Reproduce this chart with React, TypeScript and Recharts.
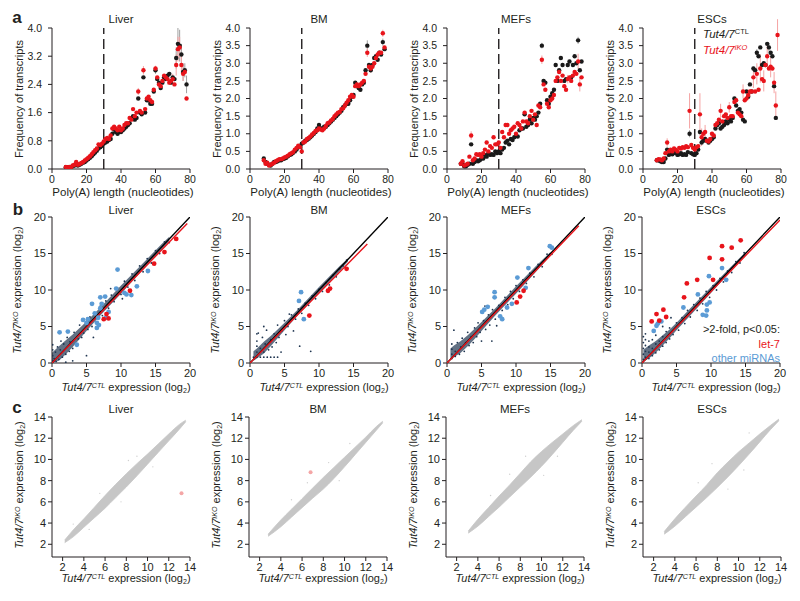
import React from 'react';
import { ComposedChart, Scatter, XAxis, YAxis, ReferenceLine, ErrorBar, Area } from 'recharts';

const FONT = '"Liberation Sans", Arial, Helvetica, sans-serif';
const INK = '#231f20';
const RED = '#e8141b';
const BLACK = '#1a1a1a';
const BLUE = '#5b9bd5';
const NAVY = '#1f3550';
const GRAY = '#c6c6c6';

// ---------------- Row a: poly(A) length distributions ----------------
const polyALengths = [8,9,10,11,12,13,14,15,16,17,18,19,20,21,22,23,24,25,26,27,28,29,30,31,32,33,34,35,36,37,38,39,40,41,42,43,44,45,46,47,48,49,50,51,52,53,54,55,56,57,58,59,60,61,62,63,64,65,66,67,68,69,70,71,72,73,74,75,76,77,78];

const liverCtl = [0.05,0.05,0.05,0.06,0.08,0.10,0.14,0.10,0.12,0.15, 0.18,0.20,0.24,0.28,0.32,0.36,0.42,0.47,0.52,0.58, 0.62,0.66,0.72,0.75,0.78,0.82,0.85,1.00,1.12,1.05, 1.00,1.05,1.05,1.10,1.15,1.20,1.25,1.30,1.45,1.50, 1.40,1.45,2.00,1.60,1.55,2.60,1.60,1.95,1.95,1.85, 1.85,2.20,2.80,2.55,2.45,2.30,2.45,2.60,2.55,2.65, 2.70,2.45,2.60,2.55,3.15,3.55,3.50,3.25,2.75,2.80, 2.40];
const liverKo = [0.06,0.05,0.06,0.05,0.10,0.12,0.20,0.12,0.14,0.17, 0.20,0.24,0.28,0.32,0.36,0.42,0.48,0.53,0.58,0.70, 0.68,0.72,0.78,0.85,0.88,0.85,0.95,1.15,1.20,1.15, 1.10,1.20,1.10,1.15,1.25,1.30,1.30,1.45,1.40,1.70, 1.50,1.60,2.20,1.65,1.60,2.80,1.70,2.00,2.05,1.95, 1.90,2.25,2.85,2.60,2.40,2.35,2.50,2.65,2.60,2.55, 2.45,2.50,2.55,2.40,2.95,3.40,3.45,2.95,2.70,2.75, 2.00];
const bmCtl = [0.30,0.20,0.15,0.12,0.10,0.15,0.20,0.20,0.22,0.25, 0.25,0.28,0.30,0.32,0.36,0.40,0.42,0.46,0.50,0.55, 0.62,0.65,0.72,0.75,0.80,0.82,0.86,0.90,0.95,1.00, 1.05,1.15,1.25,1.15,1.15,1.20,1.20,1.25,1.30,1.35, 1.40,1.45,1.50,1.55,1.60,1.65,1.75,1.80,1.85,1.85, 1.95,2.05,2.10,2.45,2.35,2.30,2.25,2.40,2.45,2.80, 3.50,2.95,2.80,2.95,3.15,3.20,3.10,3.30,3.25,3.60, 3.40];
const bmKo = [0.25,0.15,0.18,0.10,0.12,0.15,0.18,0.22,0.25,0.28, 0.28,0.30,0.33,0.35,0.38,0.42,0.45,0.48,0.55,0.60, 0.66,0.62,0.50,0.75,0.78,0.85,0.88,0.92,0.98,1.02, 1.08,1.10,1.15,1.12,1.10,1.15,1.22,1.30,1.32,1.38, 1.42,1.50,1.55,1.60,1.62,1.70,1.72,1.80,1.88,1.95, 2.05,2.10,2.05,2.35,2.40,2.35,2.40,2.45,2.50,2.70, 3.30,2.90,2.85,2.90,3.00,3.15,3.25,3.30,3.30,3.85, 3.45];
const mefCtl = [0.15,0.15,0.08,0.08,0.12,0.15,0.70,0.15,0.20,0.25, 0.22,0.25,0.30,0.30,0.40,0.35,0.45,0.40,0.42,0.40, 0.50,0.45,0.50,0.45,0.55,0.60,0.75,0.80,0.70,0.85, 0.82,0.90,0.95,0.92,1.10,1.15,1.15,1.55,1.20,1.25, 1.40,1.30,1.45,1.40,1.50,1.60,1.85,3.50,2.50,2.45, 1.95,1.85,2.05,2.15,2.25,2.95,2.50,2.80,3.15,2.95, 2.50,2.55,2.95,3.05,2.60,2.95,3.20,3.00,3.65,2.80, 3.05];
const mefKo = [0.15,0.22,0.10,0.12,0.15,0.35,0.95,0.25,0.30,0.42, 0.40,0.42,0.35,0.45,0.55,0.75,0.50,0.65,0.60,0.90, 0.70,0.70,0.75,0.60,1.05,0.90,1.25,1.25,1.00,1.10, 1.15,1.20,1.00,1.30,1.25,1.15,1.35,1.60,1.35,1.30, 1.50,1.65,1.40,1.55,1.25,1.80,1.75,3.10,2.40,2.25, 1.85,1.75,1.95,2.00,2.10,2.50,2.60,2.75,2.50,2.65, 2.35,2.25,2.55,2.60,2.50,2.65,2.75,2.70,3.05,2.40, 2.60];
const escCtl: (number | null)[] = [0.25,0.25,0.22,0.20,0.20,0.30,0.55,0.40,0.45,0.42, 0.50,0.45,0.40,0.42,0.45,0.40,0.42,0.40,0.48,1.00, 0.45,0.42,0.40,0.45,0.55,1.05,0.75,0.80,0.85,0.80, 0.75,0.80,0.85,0.90,1.15,1.25,1.30,1.15,1.20,1.25, 1.35,1.30,1.40,1.35,1.45,2.00,1.80,1.65,1.70,1.60, 1.40,1.35,2.20,2.05,2.40,2.20,2.85,2.80,3.30,3.20, 3.45,2.95,3.00,2.95,3.55,3.45,3.30,3.20,2.35,1.45, null];
const escKo = [0.25,0.28,0.27,0.25,0.30,0.45,0.75,0.50,0.55,0.50, 0.58,0.55,0.50,0.60,0.58,0.62,0.60,0.65,0.62,1.65, 0.68,0.60,0.55,0.62,0.65,1.55,0.90,1.00,1.05,0.80, 0.78,0.85,1.00,0.95,1.25,1.30,1.40,1.65,1.35,1.50, 1.55,1.45,1.75,1.50,1.50,1.90,1.95,1.60,1.55,1.50, 2.20,1.95,2.00,2.10,2.20,2.20,2.60,2.20,2.70,2.25, 2.85,2.55,2.50,2.95,3.20,2.85,2.90,2.85,2.45,1.80, 3.80];

// error bars: [length, half-width]
const liverCtlErr = [[60,0.1],[72,0.3],[73,0.45],[74,0.45],[75,0.3],[76,0.25],[77,0.2],[78,0.25]];
const liverKoErr = [[50,0.1],[53,0.12],[60,0.08],[64,0.12],[70,0.15],[72,0.3],[73,0.35],[74,0.3],[75,0.25],[76,0.2]];
const bmCtlErr = [[68,0.15],[77,0.1]];
const bmKoErr = [[68,0.12],[70,0.12],[77,0.1]];
const mefCtlErr = [[55,0.08],[76,0.1]];
const mefKoErr = [[14,0.12],[55,0.12],[70,0.12],[76,0.22],[77,0.2]];
const escCtlErr = [[27,0.1],[66,0.1],[73,0.12]];
const escKoErr = [[14,0.12],[27,0.5],[33,0.6],[34,0.25],[36,0.2],[45,0.2],[50,0.15],[58,0.2],[64,0.3],[66,0.3],[68,0.4],[70,0.3],[72,0.3],[74,0.3],[76,0.3],[77,0.4],[78,0.45]];

const yTicksLiver = [0, 0.8, 1.6, 2.4, 3.2, 4.0];
const yTicksHalf = [0, 0.5, 1.0, 1.5, 2.0, 2.5, 3.0, 3.5, 4.0];
const xTicksPolyA = [0, 20, 40, 60, 80];

// ---------------- Row b: miRNA expression ----------------
const ticksB = [0, 5, 10, 15, 20];
const liverCloud = [[0.1,0.3],[0.1,1.0],[0.1,1.8],[0.1,2.5],[0.3,0.6],[0.5,1.5],[0.6,0.2],[0.8,2.2],[1.0,0.5],[1.2,1.8],[1.3,3.0],[1.5,0.8],[1.7,2.6],[2.0,1.2],[2.2,3.5],[2.5,1.6],[2.6,2.9],[3.0,2.0],[3.2,4.2],[3.5,2.6],[3.8,3.3],[4.0,5.2],[4.3,3.5],[4.6,4.1],[5.0,1.0],[5.2,4.6],[5.5,6.3],[5.8,5.0],[6.2,6.9],[6.5,5.6],[7.0,7.8],[7.3,6.5],[7.8,8.5],[8.2,7.5],[8.6,9.3],[9.0,8.4],[9.5,10.3],[10.0,9.4],[10.5,11.2],[11.0,10.4],[11.6,12.2],[12.0,11.3],[12.7,13.3],[13.2,12.5],[13.8,14.3],[14.4,13.7],[15.0,15.4],[15.6,15.0],[16.3,16.6],[17.0,16.5],[3.0,0.3],[2.0,0.1],[6.0,3.5],[4.5,6.0],[8.5,10.2],[10.2,8.8]];
const liverBand = [[0,0,1.4],[1,0.3,2.3],[2,1.2,3.1],[3,2.2,3.9],[4,3.3,4.8],[5,4.4,5.7],[7,6.5,7.6],[10,9.5,10.6],[13,12.6,13.5],[16,15.6,16.4],[17,16.7,17.3]];
const liverLet7 = [[7.5,6.0],[7.9,6.7],[8.2,6.1],[11.3,9.9],[14.8,13.6],[16.3,15.2],[18.0,17.0]];
const liverOther = [[1.1,4.2],[2.3,4.3],[3.6,2.5],[4.5,5.9],[5.0,5.5],[5.2,6.0],[5.8,8.1],[6.2,6.8],[6.5,5.5],[6.7,6.2],[6.5,4.8],[6.8,5.2],[7.0,7.5],[7.2,8.1],[7.0,9.0],[7.7,9.1],[7.8,6.2],[8.2,7.0],[9.3,10.2],[9.5,12.8],[10.5,9.6],[10.8,9.4],[11.5,9.3],[12.3,10.5],[13.9,12.6]];
const liverFit = [[0,0],[19.6,19.1]];

const bmCloud = [[0.5,0.8],[1.0,0.8],[1.5,0.8],[2.0,0.8],[2.5,0.8],[3.0,0.8],[3.5,0.8],[4.0,0.8],[1.0,1.5],[1.0,2.3],[1.0,3.0],[1.2,4.1],[1.5,2.0],[1.8,3.5],[2.0,1.5],[2.2,2.6],[2.4,4.5],[2.7,1.8],[3.0,3.2],[3.2,2.2],[3.5,4.0],[3.8,2.8],[4.0,5.2],[4.2,3.5],[4.5,1.5],[4.6,4.4],[5.0,5.8],[5.2,3.9],[5.5,5.0],[6.0,6.6],[6.3,4.4],[6.6,6.0],[7.0,7.4],[7.5,6.8],[8.0,8.2],[8.5,7.9],[8.8,1.6],[9.0,9.2],[9.5,8.8],[10.0,10.1],[10.5,9.8],[11.0,11.0],[11.5,10.7],[12.0,12.0],[12.5,11.8],[13.0,12.9],[13.5,13.3],[14.0,14.1],[7.2,2.3],[5.7,6.7],[1.0,4.0],[2.0,5.0]];
const bmBand = [[0.5,0.3,1.6],[1,0.6,2.0],[2,1.3,2.9],[3,2.3,3.7],[4,3.4,4.6],[5,4.5,5.5],[7,6.6,7.4],[10,9.6,10.4],[13,12.6,13.3],[14.2,13.9,14.3]];
const bmLet7 = [[8.6,6.5],[11.3,9.9],[11.6,10.2],[14.0,12.9]];
const bmOther = [[7.4,9.7],[7.1,8.5],[7.8,6.0]];
const bmFit = [[0,0],[17,16.3]];

const mefCloud = [[0.7,0.6],[0.7,1.2],[0.7,1.9],[0.7,2.6],[1.2,0.9],[1.2,1.6],[1.5,2.8],[1.8,1.2],[2.0,2.2],[2.2,3.4],[2.5,1.6],[2.7,2.8],[3.0,4.2],[3.2,2.4],[3.5,3.6],[3.8,2.8],[4.0,4.8],[4.3,3.6],[4.5,5.5],[4.8,4.2],[5.0,3.0],[5.3,5.8],[5.6,4.6],[6.0,6.6],[6.2,5.2],[6.6,7.3],[7.0,6.0],[7.2,5.1],[7.5,7.9],[8.0,7.2],[8.4,9.0],[8.8,8.0],[9.2,9.8],[9.6,8.8],[10.0,10.6],[10.5,9.8],[11.0,11.4],[11.5,10.9],[12.0,12.3],[12.6,11.8],[13.2,13.5],[13.8,13.2],[14.5,14.9],[15.2,14.9],[1.0,4.5],[6.5,3.0],[5.5,7.8]];
const mefBand = [[0.5,0.5,2.0],[1,0.8,2.4],[2,1.4,3.0],[3,2.3,3.8],[4,3.3,4.7],[5,4.4,5.6],[7,6.5,7.5],[10,9.5,10.5],[13,12.6,13.4],[15,14.7,15.2]];
const mefLet7 = [[10.1,8.3],[10.6,9.1],[11.1,9.9]];
const mefOther = [[5.1,7.0],[5.4,7.3],[5.9,7.7],[6.9,9.7],[6.9,9.0],[7.7,6.4],[8.0,6.0],[8.7,7.6],[9.4,8.1],[10.2,11.7],[11.8,13.0],[11.4,10.3],[14.9,16.0],[15.2,15.8]];
const mefFit = [[0,0],[19.1,18.8]];

const escCloud = [[0.2,0.5],[0.2,1.2],[0.2,2.0],[0.2,2.8],[0.2,3.6],[0.5,0.8],[0.5,1.6],[0.5,2.4],[0.5,3.2],[0.5,4.0],[1.0,0.6],[1.0,1.5],[1.0,2.2],[1.0,3.0],[1.5,1.0],[1.5,2.0],[1.5,3.2],[2.0,1.4],[2.0,2.6],[2.0,3.8],[2.5,1.8],[2.5,3.0],[3.0,2.3],[3.0,3.6],[3.5,2.8],[3.5,4.3],[4.0,3.3],[4.0,4.8],[4.5,3.9],[5.0,5.5],[5.3,4.5],[5.8,6.2],[6.2,5.4],[6.6,7.2],[7.0,6.3],[7.5,8.0],[8.0,7.2],[8.4,8.9],[8.8,8.1],[9.3,9.8],[9.8,9.0],[10.3,10.6],[10.8,10.0],[11.3,11.6],[11.8,11.1],[12.4,12.6],[13.0,12.4],[13.6,13.9],[14.2,13.7],[14.8,15.1],[4.2,6.2],[3.0,5.0]];
const escBand = [[0.2,0.2,1.8],[1,0.6,2.4],[2,1.4,3.0],[3,2.4,3.8],[4,3.4,4.6],[5,4.5,5.5],[7,6.5,7.5],[10,9.6,10.4],[13,12.7,13.3],[15,14.8,15.2]];
const escLet7 = [[1.4,5.7],[2.1,6.7],[3.1,7.3],[2.5,5.8],[3.5,6.3],[6.1,9.0],[6.5,10.9],[8.0,11.4],[9.8,14.4],[10.3,11.4],[11.6,16.0],[11.6,14.2],[13.0,15.8],[14.3,16.8]];
const escOther = [[1.7,4.4],[2.1,5.1],[2.3,5.4],[2.8,5.7],[6.0,7.6],[8.1,9.4],[9.7,11.9],[9.4,8.0],[9.8,8.3],[9.4,7.2],[9.3,6.5],[8.8,6.6],[11.6,13.0],[12.2,11.4]];
const escFit = [[0,0],[20,19.6]];
const identityB = [[0,0],[20,20]];

// ---------------- Row c: mRNA expression ----------------
const ticksC = [2, 4, 6, 8, 10, 12, 14];
const liverMrnaBand = [[2.2,2.15,2.4],[3,2.7,3.35],[4,3.6,4.4],[5,4.5,5.5],[6,5.4,6.6],[7,6.4,7.65],[8,7.4,8.65],[9,8.45,9.6],[10,9.55,10.5],[11,10.65,11.45],[12,11.75,12.4],[13,12.85,13.3],[13.6,13.55,13.7]];
const liverMrnaStray = [[3.0,3.9],[5.5,6.8],[7.5,6.0],[9.0,10.3],[10.5,9.3],[4.5,3.4],[8.2,9.9]];
const liverMrnaHit = [[13.2,6.8]];
const bmMrnaBand = [[2.8,2.75,2.95],[4,3.65,4.3],[5,4.55,5.3],[6,5.45,6.3],[7,6.35,7.3],[8,7.2,8.3],[9,8.2,9.25],[10,9.3,10.2],[11,10.45,11.15],[12,11.6,12.1],[13,12.75,13.1],[13.6,13.45,13.6]];
const bmMrnaStray = [[8.5,9.7],[9.5,8.0],[6.5,7.8],[10.5,11.5],[5.0,6.2]];
const bmMrnaHit = [[6.8,8.8]];
const mefMrnaBand = [[3.1,3.05,3.25],[4,3.7,4.35],[5,4.6,5.45],[6,5.5,6.55],[7,6.45,7.6],[8,7.4,8.7],[9,8.35,9.8],[10,9.35,10.75],[11,10.45,11.6],[12,11.6,12.4],[13,12.75,13.2],[13.8,13.6,13.75]];
const mefMrnaStray = [[8.5,10.3],[10.2,8.5],[7.0,8.6],[11.5,10.3],[5.2,6.6]];
const escMrnaBand = [[3.0,2.95,3.2],[4,3.7,4.4],[5,4.6,5.5],[6,5.5,6.55],[7,6.4,7.6],[8,7.35,8.75],[9,8.35,9.75],[10,9.4,10.7],[11,10.5,11.55],[12,11.65,12.4],[13,12.8,13.2],[13.8,13.65,13.8]];
const escMrnaStray = [[7.5,9.6],[9.0,7.2],[6.2,7.8],[11.0,12.5],[10.5,9.0]];

// ---------------- helpers ----------------
const toPts = (arr: number[][]) => arr.map(([x, y]) => ({ x, y }));
const toBand = (arr: number[][]) => arr.map(([x, lo, hi]) => ({ x, band: [lo, hi] }));
function buildPolyA(vals: (number | null)[], errs: number[][]) {
  const em = new Map(errs.map(([x, e]) => [x, e] as [number, number]));
  return polyALengths
    .map((x, i) => ({ x, y: vals[i], e: em.get(x) ?? 0 }))
    .filter((d) => d.y != null);
}
const dot = (r: number, fill: string) => (p: any) =>
  p.cx == null ? <g /> : <circle cx={p.cx} cy={p.cy} r={r} fill={fill} />;
const noDot = () => <g />;

const PW = 138;

function Txt(props: { x: number; y: number; children: any; size?: number; anchor?: string; color?: string; rotate?: boolean; italic?: boolean; bold?: boolean }) {
  const { x, y, children, size = 11, anchor = 'middle', color = INK, rotate = false, italic = false, bold = false } = props;
  const tx = anchor === 'middle' ? '-50%' : anchor === 'end' ? '-100%' : '0';
  return (
    <div
      style={{
        position: 'absolute', left: x, top: y,
        transform: rotate ? 'translate(-50%,-50%) rotate(-90deg)' : `translate(${tx},-50%)`,
        fontSize: size, fontFamily: FONT, color, whiteSpace: 'nowrap', lineHeight: 1,
        fontStyle: italic ? 'italic' : 'normal', fontWeight: bold ? 700 : 400,
      }}
    >
      {children}
    </div>
  );
}
const Sup = ({ children, italic = false }: any) => (
  <span style={{ fontSize: '0.65em', verticalAlign: '0.5em', fontStyle: italic ? 'italic' : 'normal' }}>{children}</span>
);
const Sub = ({ children }: any) => <span style={{ fontSize: '0.65em', verticalAlign: '-0.3em' }}>{children}</span>;

const tickStyle = (size: number) => ({ fontSize: size, fill: INK, fontFamily: FONT });
const axisProps = { axisLine: { stroke: INK, strokeWidth: 1 }, tickLine: { stroke: INK, strokeWidth: 1 } };

function PolyAPanel(props: { pl: number; pt: number; ph: number; ctl: any[]; ko: any[]; yTicks: number[] }) {
  const { pl, pt, ph, ctl, ko, yTicks } = props;
  return (
    <div style={{ position: 'absolute', left: pl - 40, top: pt - 10 }}>
      <ComposedChart width={40 + PW + 10} height={10 + ph + 30} margin={{ top: 10, right: 10, bottom: 0, left: 0 }}>
        <XAxis type="number" dataKey="x" domain={[0, 80]} ticks={xTicksPolyA} height={30} tickSize={4} tickMargin={3} tick={tickStyle(10.5)} {...axisProps} allowDataOverflow />
        <YAxis type="number" dataKey="y" domain={[0, 4]} ticks={yTicks} width={40} tickSize={4} tickMargin={6} tick={tickStyle(10.5)} tickFormatter={(v: number) => v.toFixed(1)} {...axisProps} allowDataOverflow />
        <ReferenceLine x={30} stroke={INK} strokeWidth={1.4} strokeDasharray="10 5" />
        <Scatter data={ctl} dataKey="y" shape={dot(2.2, BLACK)} isAnimationActive={false}>
          <ErrorBar dataKey="e" direction="y" width={0} stroke="#a0a0a0" strokeWidth={1} />
        </Scatter>
        <Scatter data={ko} dataKey="y" shape={dot(2.2, RED)} isAnimationActive={false}>
          <ErrorBar dataKey="e" direction="y" width={0} stroke="#f5a3a3" strokeWidth={1} />
        </Scatter>
      </ComposedChart>
    </div>
  );
}

function MirPanel(props: { pl: number; pt: number; ph: number; cloud: number[][]; band: number[][]; let7: number[][]; other: number[][]; fit: number[][] }) {
  const { pl, pt, ph, cloud, band, let7, other, fit } = props;
  return (
    <div style={{ position: 'absolute', left: pl - 40, top: pt - 10 }}>
      <ComposedChart width={40 + PW + 10} height={10 + ph + 30} margin={{ top: 10, right: 10, bottom: 0, left: 0 }} data={toBand(band)}>
        <XAxis type="number" dataKey="x" domain={[0, 20]} ticks={ticksB} height={30} tickSize={4} tickMargin={2} tick={tickStyle(11)} {...axisProps} allowDataOverflow />
        <YAxis type="number" dataKey="y" domain={[0, 20]} ticks={ticksB} width={40} tickSize={4} tickMargin={2} tick={tickStyle(11)} {...axisProps} allowDataOverflow />
        <Area dataKey="band" type="linear" stroke="none" fill={NAVY} fillOpacity={0.7} isAnimationActive={false} dot={false} activeDot={false} />
        <Scatter data={toPts(cloud)} dataKey="y" shape={dot(0.9, NAVY)} isAnimationActive={false} />
        <Scatter data={toPts(identityB)} dataKey="y" shape={noDot} line={{ stroke: '#000', strokeWidth: 1.4 }} isAnimationActive={false} />
        <Scatter data={toPts(fit)} dataKey="y" shape={noDot} line={{ stroke: RED, strokeWidth: 1.4 }} isAnimationActive={false} />
        <Scatter data={toPts(other)} dataKey="y" shape={dot(2.4, BLUE)} isAnimationActive={false} />
        <Scatter data={toPts(let7)} dataKey="y" shape={dot(2.4, RED)} isAnimationActive={false} />
      </ComposedChart>
    </div>
  );
}

function MrnaPanel(props: { pl: number; pt: number; ph: number; band: number[][]; stray: number[][]; hit: number[][] }) {
  const { pl, pt, ph, band, stray, hit } = props;
  return (
    <div style={{ position: 'absolute', left: pl - 40, top: pt - 10 }}>
      <ComposedChart width={40 + PW + 10} height={10 + ph + 30} margin={{ top: 10, right: 10, bottom: 0, left: 0 }} data={toBand(band)}>
        <XAxis type="number" dataKey="x" domain={[1, 14]} ticks={ticksC} height={30} tickSize={4} tickMargin={2} tick={tickStyle(11)} {...axisProps} allowDataOverflow />
        <YAxis type="number" dataKey="y" domain={[0.8, 14]} ticks={ticksC} width={40} tickSize={4} tickMargin={2} tick={tickStyle(11)} {...axisProps} allowDataOverflow />
        <Area dataKey="band" type="monotone" stroke={GRAY} strokeWidth={0.8} fill={GRAY} fillOpacity={1} isAnimationActive={false} dot={false} activeDot={false} />
        <Scatter data={toPts(stray)} dataKey="y" shape={dot(0.7, '#d0d0d0')} isAnimationActive={false} />
        <Scatter data={toPts(hit)} dataKey="y" shape={dot(2, '#f4a6a6')} isAnimationActive={false} />
      </ComposedChart>
    </div>
  );
}

const tissues = ['Liver', 'BM', 'MEFs', 'ESCs'];
const rowA = { pls: [52, 250, 447, 643], pt: 28, ph: 141 };
const rowB = { pls: [52, 250, 447, 642], pt: 217, ph: 146 };
const rowC = { pls: [52, 249, 446, 643], pt: 417, ph: 140 };

export default function App() {
  const polyA = [
    { ctl: buildPolyA(liverCtl, liverCtlErr), ko: buildPolyA(liverKo, liverKoErr), yTicks: yTicksLiver },
    { ctl: buildPolyA(bmCtl, bmCtlErr), ko: buildPolyA(bmKo, bmKoErr), yTicks: yTicksHalf },
    { ctl: buildPolyA(mefCtl, mefCtlErr), ko: buildPolyA(mefKo, mefKoErr), yTicks: yTicksHalf },
    { ctl: buildPolyA(escCtl, escCtlErr), ko: buildPolyA(escKo, escKoErr), yTicks: yTicksHalf },
  ];
  const mir = [
    { cloud: liverCloud, band: liverBand, let7: liverLet7, other: liverOther, fit: liverFit },
    { cloud: bmCloud, band: bmBand, let7: bmLet7, other: bmOther, fit: bmFit },
    { cloud: mefCloud, band: mefBand, let7: mefLet7, other: mefOther, fit: mefFit },
    { cloud: escCloud, band: escBand, let7: escLet7, other: escOther, fit: escFit },
  ];
  const mrna = [
    { band: liverMrnaBand, stray: liverMrnaStray, hit: liverMrnaHit },
    { band: bmMrnaBand, stray: bmMrnaStray, hit: bmMrnaHit },
    { band: mefMrnaBand, stray: mefMrnaStray, hit: [] as number[][] },
    { band: escMrnaBand, stray: escMrnaStray, hit: [] as number[][] },
  ];
  const koLabel = (
    <>
      <i>Tut4/7</i><Sup italic>iKO</Sup> expression (log<Sub>2</Sub>)
    </>
  );
  const ctlLabel = (
    <>
      <i>Tut4/7</i><Sup italic>CTL</Sup> expression (log<Sub>2</Sub>)
    </>
  );
  return (
    <div style={{ position: 'absolute', left: 0, top: 0, width: 800, height: 601, background: '#fff', overflow: 'hidden' }}>
      {polyA.map((p, i) => (
        <PolyAPanel key={'a' + i} pl={rowA.pls[i]} pt={rowA.pt} ph={rowA.ph} ctl={p.ctl} ko={p.ko} yTicks={p.yTicks} />
      ))}
      {mir.map((m, i) => (
        <MirPanel key={'b' + i} pl={rowB.pls[i]} pt={rowB.pt} ph={rowB.ph} {...m} />
      ))}
      {mrna.map((m, i) => (
        <MrnaPanel key={'c' + i} pl={rowC.pls[i]} pt={rowC.pt} ph={rowC.ph} {...m} />
      ))}

      <Txt x={17} y={17} size={17} bold>a</Txt>
      <Txt x={18} y={209} size={17} bold>b</Txt>
      <Txt x={17} y={407} size={17} bold>c</Txt>

      {tissues.map((t, i) => (
        <React.Fragment key={'t' + i}>
          <Txt x={rowA.pls[i] + PW / 2} y={20} size={11.5}>{t}</Txt>
          <Txt x={rowB.pls[i] + PW / 2} y={211} size={11.5}>{t}</Txt>
          <Txt x={rowC.pls[i] + PW / 2} y={410} size={11.5}>{t}</Txt>
          <Txt x={rowA.pls[i] - 33} y={rowA.pt + rowA.ph / 2} size={11} rotate>Frequency of transcripts</Txt>
          <Txt x={rowA.pls[i] + PW / 2 + 2} y={193} size={11.5}>Poly(A) length (nucleotides)</Txt>
          <Txt x={rowB.pls[i] - 33} y={rowB.pt + rowB.ph / 2} size={11} rotate>{koLabel}</Txt>
          <Txt x={rowB.pls[i] + PW / 2 + 5} y={389} size={11}>{ctlLabel}</Txt>
          <Txt x={rowC.pls[i] - 31} y={rowC.pt + rowC.ph / 2 - 2} size={11} rotate>{koLabel}</Txt>
          <Txt x={rowC.pls[i] + PW / 2 + 5} y={580} size={11}>{ctlLabel}</Txt>
        </React.Fragment>
      ))}

      <Txt x={703} y={34} size={11.5} anchor="start"><i>Tut4/7</i><Sup>CTL</Sup></Txt>
      <Txt x={703} y={50} size={11.5} anchor="start" color={RED}><i>Tut4/7</i><Sup italic>iKO</Sup></Txt>

      <Txt x={780} y={329} size={11} anchor="end">&gt;2-fold, p&lt;0.05:</Txt>
      <Txt x={780} y={344} size={11} anchor="end" color={RED}>let-7</Txt>
      <Txt x={780} y={358} size={11} anchor="end" color={BLUE}>other miRNAs</Txt>
    </div>
  );
}
